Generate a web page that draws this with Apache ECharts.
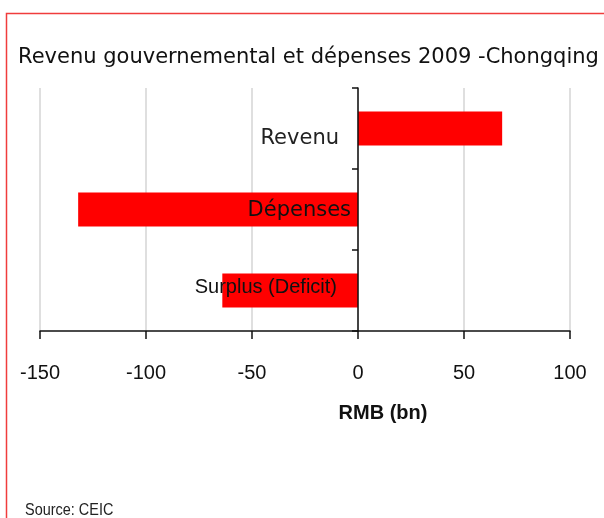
<!DOCTYPE html>
<html style="height: 100%">
<head>
<meta charset="utf-8">
</head>
<body style="height: 100%; margin: 0; background: #fff">
<div id="container" style="width: 604px; height: 518px"></div>
<script src="https://cdn.jsdelivr.net/npm/echarts@6/dist/echarts.min.js"></script>
<script>
var categories = ['Revenu', 'Dépenses', 'Surplus (Deficit)'];
var values = [68, -132, -64];
var xTicks = [-150, -100, -50, 0, 50, 100];

var gridLeft = 40, gridRight = 34;
var plotWidth = 604 - gridLeft - gridRight;
var xMin = xTicks[0], xMax = xTicks[xTicks.length - 1];
// shift the category axis (line + labels) onto the zero of the value axis
var zeroOffset = -(0 - xMin) / (xMax - xMin) * plotWidth;

var chart = echarts.init(document.getElementById('container'));

var option = {
  animation: false,
  title: {
    text: 'Revenu gouvernemental et dépenses 2009 -Chongqing',
    left: 13,
    top: 42,
    textStyle: { fontFamily: 'DejaVu Sans', fontSize: 21, fontWeight: 'normal', color: '#111' }
  },
  graphic: [
    {
      type: 'rect',
      shape: { x: 6.5, y: 13.5, width: 700, height: 600 },
      style: { fill: 'none', stroke: '#f03c3c', lineWidth: 1.5 }
    },
    {
      type: 'text',
      x: 25,
      y: 502,
      scaleX: 0.85,
      style: { text: 'Source: CEIC', font: '17px "Liberation Sans"', fill: '#222' }
    }
  ],
  grid: { left: gridLeft, right: gridRight, top: 88, bottom: 187, containLabel: false, outerBoundsMode: 'none' },
  xAxis: {
    type: 'value',
    min: xMin,
    max: xMax,
    interval: 50,
    name: 'RMB (bn)',
    nameLocation: 'middle',
    nameGap: 72,
    nameTextStyle: {
      fontFamily: 'Liberation Sans',
      fontSize: 20, fontWeight: 'bold', color: '#111',
      padding: [0, 0, 0, 156]
    },
    axisLine: { show: true, lineStyle: { color: '#111', width: 1.5 } },
    axisTick: { show: true, length: 8, lineStyle: { color: '#111', width: 1.5 } },
    axisLabel: {
      margin: 32,
      fontFamily: 'Liberation Sans',
      fontSize: 20, color: '#111'
    },
    splitLine: { show: true, lineStyle: { color: '#d4d4d4', width: 1.5 } }
  },
  yAxis: {
    type: 'category',
    data: categories,
    inverse: true,
    z: 5,
    offset: zeroOffset,
    axisLine: { show: true, onZero: false, lineStyle: { color: '#111', width: 1.5 } },
    axisTick: { show: true, length: 6, lineStyle: { color: '#111', width: 1.5 } },
    axisLabel: {
      margin: 6,
      formatter: function (v, i) { return '{c' + i + '|' + v + '}'; },
      rich: {
        c0: { fontFamily: 'DejaVu Sans', fontSize: 21, color: '#222', padding: [21, 13, 0, 0] },
        c1: { fontFamily: 'DejaVu Sans', fontSize: 21, color: '#111', padding: [3, 1, 0, 0] },
        c2: { fontFamily: 'Liberation Sans', fontSize: 20, color: '#111', padding: [0, 15, 6, 0] }
      }
    }
  },
  series: [
    {
      type: 'bar',
      data: values,
      barWidth: 34,
      itemStyle: { color: '#ff0000' }
    }
  ]
};

chart.setOption(option);
</script>
</body>
</html>
